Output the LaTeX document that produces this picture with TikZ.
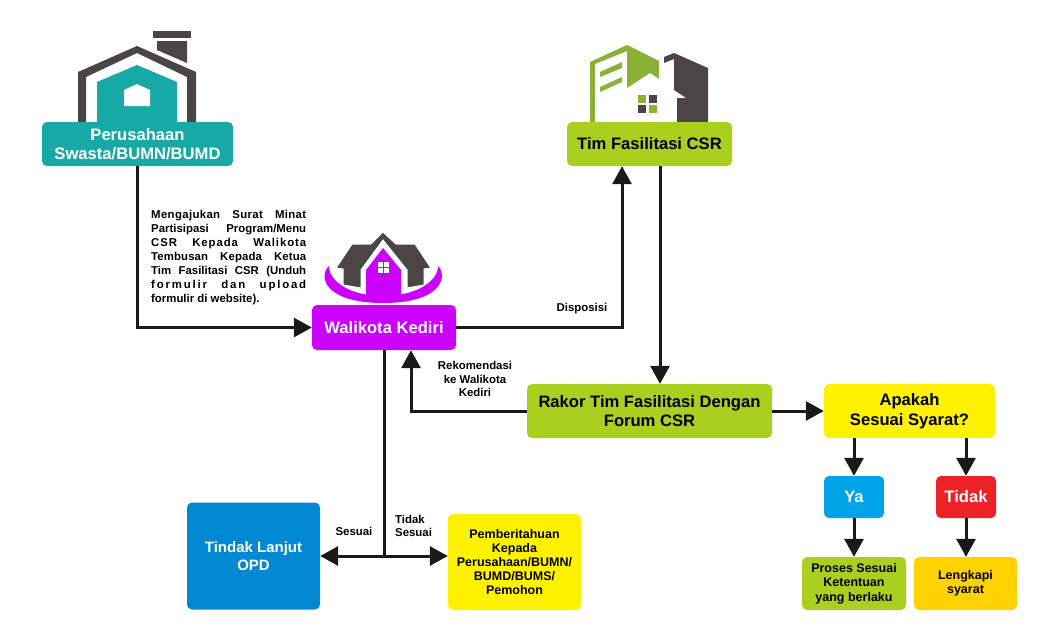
\documentclass[tikz,border=0pt]{standalone}
\usepackage{fontspec}
\setmainfont{Liberation Sans}
\usetikzlibrary{arrows.meta,calc}

\definecolor{tealbox}{HTML}{17A9A5}
\definecolor{limebox}{HTML}{AACF1F}
\definecolor{purplebox}{HTML}{CC00FF}
\definecolor{yellowbox}{HTML}{FFF200}
\definecolor{bluebox}{HTML}{00A2E8}
\definecolor{redbox}{HTML}{EC2227}
\definecolor{amberbox}{HTML}{FFD200}
\definecolor{opdbox}{HTML}{0089D2}
\definecolor{darkicon}{HTML}{4A4646}
\definecolor{greenicon}{HTML}{8BB236}

\tikzset{
  flowbox/.style={rounded corners=5pt, align=center, inner sep=0pt, font=\fontsize{16.6}{19.5}\bfseries\selectfont},
  smallbox/.style={flowbox, font=\fontsize{12.5}{14.5}\bfseries\selectfont},
  note/.style={align=center, inner sep=0pt, font=\fontsize{11.4}{13.5}\bfseries\selectfont},
  link/.style={line width=3pt, color=black!90, -{Triangle[length=18pt,width=19pt]}}
}
\newcommand{\jline}[2][0]{\makebox[155pt][s]{\addfontfeature{LetterSpace=#1}#2}\\}

\begin{document}
\begin{tikzpicture}[x=1pt, y=-1pt]
\useasboundingbox (0,0) rectangle (1051,638);

% house above the company box
\fill[darkicon] (78,72) -- (137,46) -- (196,72) -- (196,124) -- (187,124) -- (187,77) -- (137,53) -- (86,77) -- (86,124) -- (78,124) -- cycle;
\fill[darkicon] (153,31) rectangle (191,38);
\fill[darkicon] (157,41) -- (187,41) -- (187,63) -- (157,50) -- cycle;
\fill[tealbox] (97,82) -- (137,65) -- (177,82) -- (177,124) -- (97,124) -- cycle;
\fill[white] (124,90) -- (137,84) -- (150,90) -- (150,106) -- (124,106) -- cycle;

% building above the team box
\fill[greenicon] (590,62) -- (627,45) -- (659,61) -- (659,79) -- (650,73) -- (627,88) -- (627,51) -- (595,64) -- (595,124) -- (590,124) -- cycle;
\fill[greenicon] (600,72) -- (622,62) -- (622,68) -- (600,77) -- cycle;
\fill[greenicon] (600,87) -- (622,77) -- (622,82) -- (600,92) -- cycle;
\fill[darkicon] (664,57) -- (674,53) -- (708,68) -- (708,124) -- (677,124) -- (677,98) -- (686,98) -- (674,90) -- (674,59) -- (664,63) -- cycle;
\fill[greenicon] (638,95) rectangle (646,103);
\fill[darkicon] (649,95) rectangle (657,103);
\fill[darkicon] (638,105) rectangle (646,113);
\fill[greenicon] (649,105) rectangle (657,113);

% house above the mayor box
\fill[purplebox] (329,266) .. controls (318,276) and (324,303) .. (383,303) .. controls (442,303) and (448,276) .. (438,266)
  .. controls (438,282) and (415,296) .. (383,296) .. controls (351,296) and (329,282) .. (329,266) -- cycle;
\filldraw[fill=darkicon, draw=white, line width=1pt] (383,232) -- (396,244) -- (415,244) -- (431,268) -- (424,269) -- (424,285) -- (407,288) -- (407,270) -- (383,240)
  -- (361,270) -- (361,288) -- (343,285) -- (343,269) -- (336,268) -- (352,244) -- (371,244) -- cycle;
\fill[purplebox] (383,248) -- (401,270) -- (401,299) -- (366,299) -- (366,270) -- cycle;
\foreach \wx in {378,384.2}
  \foreach \wy in {262,268.2}
    \fill[white] (\wx,\wy) rectangle +(4.8,4.8);

\node[flowbox, fill=tealbox, text=white, minimum width=191pt, minimum height=44pt] (perusahaan) at (137.5,144) {Perusahaan\\Swasta/BUMN/BUMD};
\node[flowbox, fill=limebox, minimum width=165pt, minimum height=44pt] (tim) at (649.5,144) {Tim Fasilitasi CSR};
\node[flowbox, fill=purplebox, text=white, minimum width=144pt, minimum height=45pt] (walikota) at (384,327.5) {Walikota Kediri};
\node[flowbox, fill=limebox, minimum width=245pt, minimum height=54pt] (rakor) at (649.5,411) {Rakor Tim Fasilitasi Dengan\\Forum CSR};
\node[flowbox, fill=yellowbox, minimum width=171pt, minimum height=54pt] (apakah) at (909.5,411) {Apakah\\Sesuai Syarat?};
\node[flowbox, fill=bluebox, text=white, minimum width=60pt, minimum height=42pt] (ya) at (854,497) {Ya};
\node[flowbox, fill=redbox, text=white, minimum width=60pt, minimum height=42pt] (tidak) at (966,497) {Tidak};
\node[smallbox, fill=limebox, minimum width=104pt, minimum height=53pt] (proses) at (854,583.5) {Proses Sesuai\\Ketentuan\\yang berlaku};
\node[smallbox, fill=amberbox, minimum width=103pt, minimum height=53pt] (lengkapi) at (965.5,583.5) {Lengkapi\\syarat};
\node[flowbox, fill=opdbox, text=white, font=\fontsize{15}{18}\bfseries\selectfont, minimum width=133pt, minimum height=107pt] (opd) at (253.5,556) {Tindak Lanjut\\OPD};
\node[smallbox, fill=yellowbox, font=\fontsize{12.5}{14}\bfseries\selectfont, minimum width=133pt, minimum height=96pt] (pemberitahuan) at (514.5,562) {Pemberitahuan\\Kepada\\Perusahaan/BUMN/\\BUMD/BUMS/\\Pemohon};

\node[note, font=\fontsize{11.4}{14}\bfseries\selectfont, align=left, anchor=north west] (surat) at (151,210.5) {\jline[3]{Mengajukan Surat Minat}\jline{Partisipasi Program/Menu}\jline[8]{CSR Kepada Walikota}\jline[1]{Tembusan Kepada Ketua}\jline{Tim Fasilitasi CSR (Unduh}\jline[16]{formulir dan upload}formulir di website).};
\node[note] (disposisi) at (582,309) {Disposisi};
\node[note] (rekomendasi) at (475,379) {Rekomendasi\\ke Walikota\\Kediri};
\node[note] (sesuai) at (354,531) {Sesuai};
\node[note, align=left, anchor=west] (tidaksesuai) at (395,526) {Tidak\\Sesuai};

\coordinate (simpang) at (walikota.south |- opd.east);

\draw[link] (perusahaan.south) |- (walikota.west);
\draw[link] (walikota.east) -| ($(tim.south)+(-27.5,0)$);
\draw[link] ($(tim.south)+(10.5,0)$) -- ($(rakor.north)+(10.5,0)$);
\draw[link] (rakor.west) -| ($(walikota.south)+(27,0)$);
\draw[link] (rakor.east) -- (apakah.west);
\draw[link] (apakah.south -| ya.north) -- (ya.north);
\draw[link] (apakah.south -| tidak.north) -- (tidak.north);
\draw[link] (ya.south) -- (proses.north);
\draw[link] (tidak.south) -- (tidak.south |- lengkapi.north);
\draw[line width=3pt, color=black!90] (walikota.south) -- (simpang);
\draw[link] (simpang) -- (opd.east);
\draw[link] (simpang) -- (simpang -| pemberitahuan.west);
\end{tikzpicture}
\end{document}
